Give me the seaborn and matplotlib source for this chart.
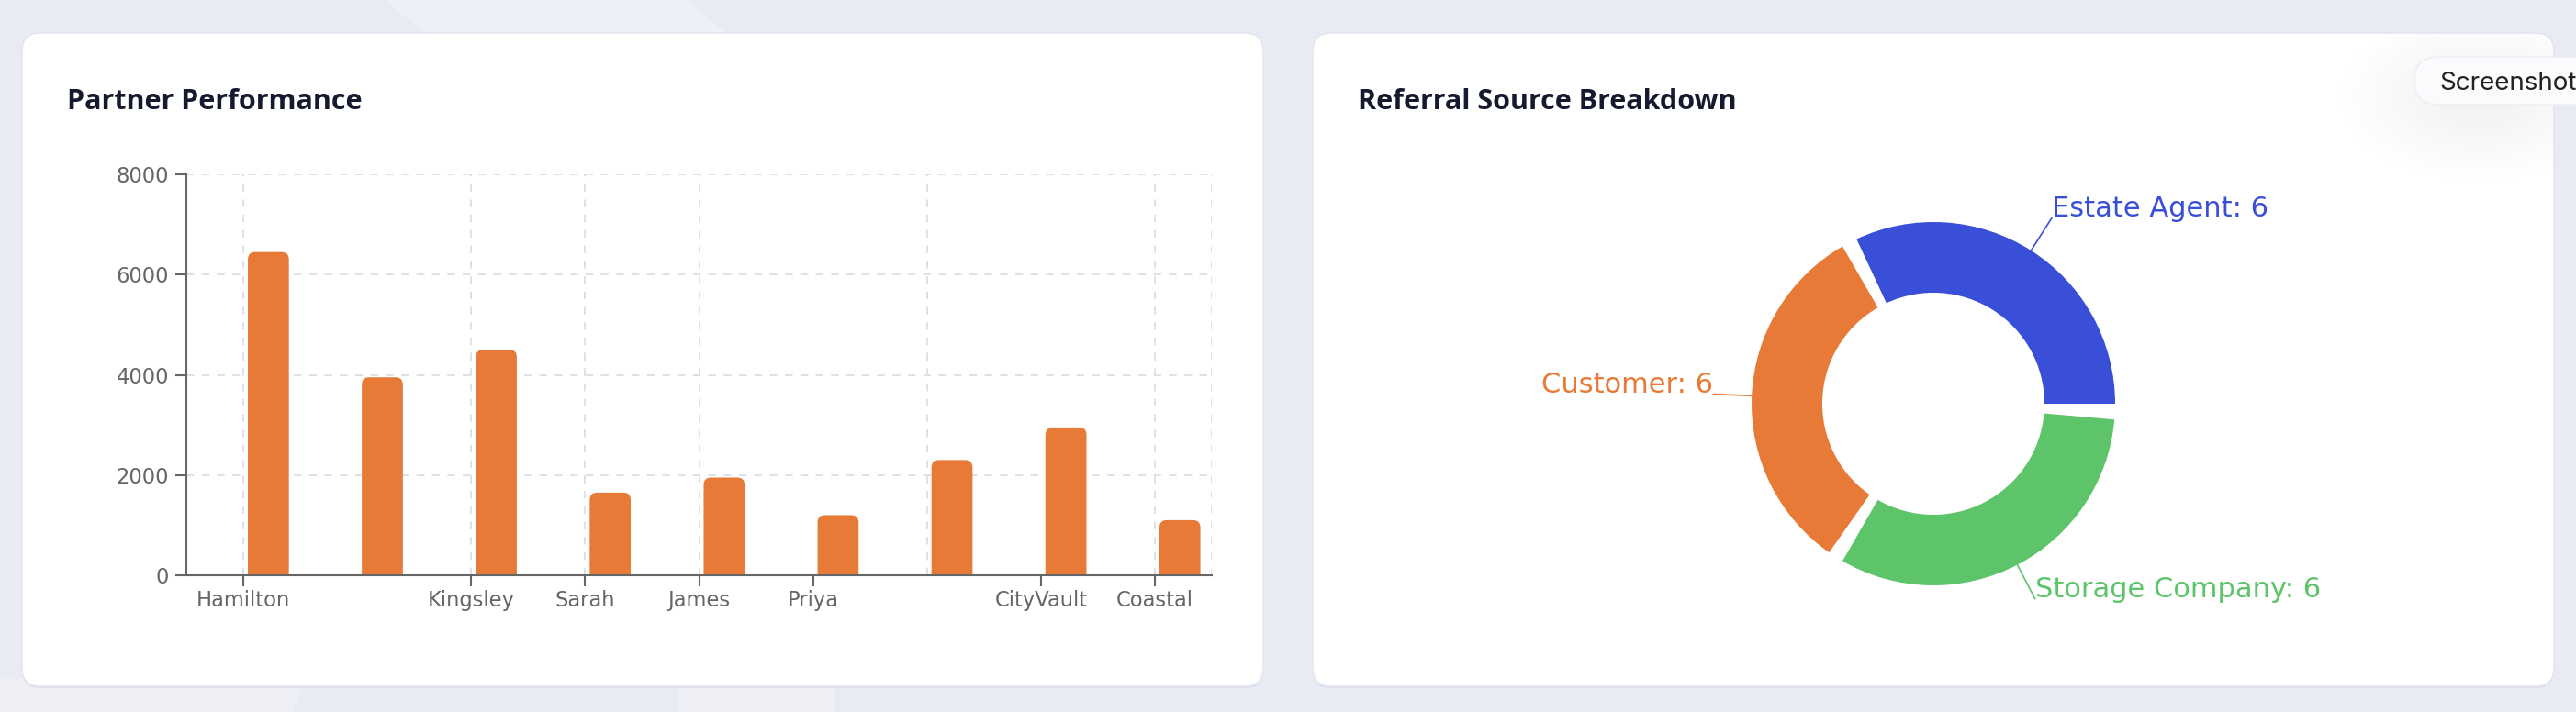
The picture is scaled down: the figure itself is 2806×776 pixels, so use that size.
import matplotlib
matplotlib.use("Agg")
import matplotlib.pyplot as plt
from matplotlib.patches import FancyBboxPatch, Polygon, Ellipse
import numpy as np
import pandas as pd
import seaborn as sns

# ============================================================: DATA
partner_values = [6450, 3950, 4500, 1650, 1950, 1200, 2300, 2950, 1100]
tick_positions = [0, 2, 3, 4, 5, 7, 8]
tick_labels = ["Hamilton", "Kingsley", "Sarah", "James", "Priya", "CityVault", "Coastal"]
grid_positions = [0, 2, 3, 4, 6, 8, 8.5]
y_ticks = [0, 2000, 4000, 6000, 8000]

source_names = ["Estate Agent", "Customer", "Storage Company"]
source_counts = [6, 6, 6]
source_colors = ["#3a4fd8", "#e77a36", "#5ec46a"]

BAR_COLOR = "#e77a36"
W, H = 2806, 776


def frac(x0, y0, x1, y1):
    return [x0 / W, 1 - y1 / H, (x1 - x0) / W, (y1 - y0) / H]


# ============================================================: FIGURE
sns.set_theme(style="white")
plt.rcParams["font.family"] = ["Open Sans", "DejaVu Sans"]

fig = plt.figure(figsize=(W / 100, H / 100), dpi=100)
fig.patch.set_facecolor("#e8ebf4")

bg = fig.add_axes([0, 0, 1, 1], zorder=-5)
bg.set_xlim(0, W)
bg.set_ylim(H, 0)
bg.axis("off")

# soft background shapes
bg.add_patch(Polygon([[420, 0], [748, 0], [820, 60], [490, 60]], closed=True,
                     facecolor="#eef0f7", edgecolor="none"))
bg.add_patch(Polygon([[0, 740], [335, 740], [318, 776], [0, 776]], closed=True,
                     facecolor="#eef0f6", edgecolor="none"))
bg.add_patch(Polygon([[740, 740], [910, 740], [910, 776], [740, 776]], closed=True,
                     facecolor="#eef0f6", edgecolor="none"))

# cards
cards = []
for x0, x1 in [(24, 1376), (1430, 2782)]:
    bg.add_patch(FancyBboxPatch((x0, 38), x1 - x0, 712, boxstyle="round,pad=0,rounding_size=20",
                                facecolor="#dde0ea", edgecolor="none"))
    card = FancyBboxPatch((x0, 36), x1 - x0, 712, boxstyle="round,pad=0,rounding_size=20",
                          facecolor="white", edgecolor="#e3e5ee", linewidth=1)
    bg.add_patch(card)
    cards.append(card)

bg.text(73, 119, "Partner Performance", fontsize=22, fontweight="bold", color="#161a2e", va="baseline")
bg.text(1479, 119, "Referral Source Breakdown", fontsize=22, fontweight="bold", color="#161a2e", va="baseline")

# screenshot pill with a soft shadow inside the right card
for k in range(12):
    rad = 150 - k * 10
    sh = Ellipse((2700, 105), rad * 2, rad * 1.2, facecolor="#8a90a0", alpha=0.008, edgecolor="none")
    bg.add_patch(sh)
    sh.set_clip_path(cards[1])
bg.add_patch(FancyBboxPatch((2630, 62), 260, 52, boxstyle="round,pad=0,rounding_size=26",
                            facecolor="#fbfbfd", edgecolor="#eceef3", linewidth=1))
bg.text(2657, 98, "Screenshot", fontsize=20, color="#222222", va="baseline",
        family=["Inter", "DejaVu Sans"])

# ============================================================: BAR CHART
ax = fig.add_axes(frac(203, 190, 1320, 627))
ax.set_facecolor("none")
df = pd.DataFrame({"idx": list(range(len(partner_values))), "value": partner_values})
sns.barplot(data=df, x="idx", y="value", ax=ax, color=BAR_COLOR, width=0.36, saturation=1, zorder=3)

# rounded tops, bar sits just right of its tick
x_units_per_px = 9 / 1117
y_units_per_px = 8000 / 437
radius = 8 * x_units_per_px
for p in list(ax.patches):
    x, w, h = p.get_x(), p.get_width(), p.get_height()
    p.remove()
    ax.add_patch(FancyBboxPatch((x + 0.22, -200), w, h + 200,
                                boxstyle="round,pad=0,rounding_size=%f" % radius,
                                mutation_aspect=y_units_per_px / x_units_per_px,
                                facecolor=BAR_COLOR, edgecolor="none", zorder=3))

ax.set_xlim(-0.5, 8.5)
ax.set_ylim(0, 8000)
for yv in y_ticks[1:]:
    ax.axhline(yv, color="#dfe0e8", lw=1.4, dashes=(4.3, 4.3), zorder=1)
for xv in grid_positions:
    ax.axvline(xv, color="#dfe0e8", lw=1.4, dashes=(4.3, 4.3), zorder=1)

ax.set_xticks(tick_positions)
ax.set_xticklabels(tick_labels, family=["DejaVu Sans"])
ax.set_yticks(y_ticks)
ax.set_yticklabels([str(v) for v in y_ticks], family=["DejaVu Sans"])
ax.set_xlabel("")
ax.set_ylabel("")
for s in ["top", "right"]:
    ax.spines[s].set_visible(False)
for s in ["left", "bottom"]:
    ax.spines[s].set_color("#666666")
    ax.spines[s].set_linewidth(1.5)
    ax.spines[s].set_zorder(4)
ax.tick_params(axis="both", length=8.5, width=1.5, color="#666666", labelcolor="#666666", labelsize=16.3)
ax.tick_params(axis="y", pad=5, left=True)
ax.tick_params(axis="x", pad=3, bottom=True)

# ============================================================: DONUT
cx, cy, r_out = 2106, 440, 198
half = 300
pax = fig.add_axes(frac(cx - half, cy - half, cx + half, cy + half))
pax.axis("off")
wedges, _ = pax.pie(source_counts, colors=source_colors, startangle=0, counterclock=True,
                    radius=1, wedgeprops=dict(width=77 / 198, edgecolor="none"))
pax.set_xlim(-half / r_out, half / r_out)
pax.set_ylim(-half / r_out, half / r_out)
pax.set_aspect("equal")

for wdg, name, cnt, col in zip(wedges, source_names, source_counts, source_colors):
    wdg.set_theta2(wdg.theta2 - 5)
    mid = np.deg2rad((wdg.theta1 + wdg.theta2) / 2)
    x0, y0 = np.cos(mid), np.sin(mid)
    x1, y1 = 1.212 * x0, 1.212 * y0
    pax.plot([x0, x1], [y0, y1], color=col, lw=1.2)
    pax.text(x1, y1 + 0.01, "%s: %d" % (name, cnt), color=col, fontsize=22,
             ha="left" if x1 > 0 else "right", va="baseline", family=["DejaVu Sans"])

fig.savefig("out.png", dpi=100, facecolor=fig.get_facecolor())
